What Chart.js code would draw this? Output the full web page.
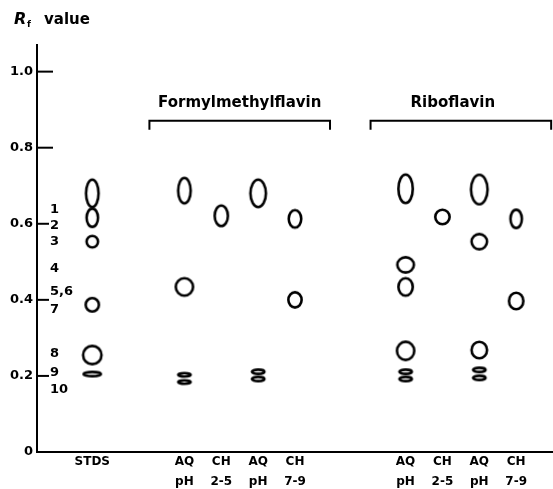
<!DOCTYPE html>
<html lang="en">
<head>
    <meta charset="UTF-8">
    <title>Rf values</title>
    <style>
        html, body { margin: 0; padding: 0; background: #fff; }
        #wrap { width: 553px; height: 489px; }
    </style>
</head>
<body>
<div id="wrap">
    <canvas id="myChart"></canvas>
</div>

<script src="https://cdn.jsdelivr.net/npm/chart.js"></script>

<script>
    // lanes on the plate (label lines) and where they sit along the plate
    const lanes = [['STDS'], ['AQ', 'pH'], ['CH', '2-5'], ['AQ', 'pH'], ['CH', '7-9'],
                   ['AQ', 'pH'], ['CH', '2-5'], ['AQ', 'pH'], ['CH', '7-9']];
    const laneSlot = [1.5, 4, 5, 6, 7, 10, 11, 12, 13];
    const groups = ['Formylmethylflavin', 'Riboflavin'];
    const groupLanes = [[1, 4], [5, 8]];
    const yTicks = [0, 0.2, 0.4, 0.6, 0.8, 1.0];

    // numbered standards
    const stdNames = ['1', '2', '3', '4', '5,6', '7', '8', '9', '10'];
    const stdRf = [0.637, 0.595, 0.553, 0.482, 0.421, 0.374, 0.258, 0.208, 0.163];

    // spots: lane index, Rf of centre, length along the run (Rf), breadth (lane units)
    const spotLane = [0, 0, 0, 0, 0, 0,
                      1, 1, 1, 1,
                      2,
                      3, 3, 3,
                      4, 4,
                      5, 5, 5, 5, 5, 5,
                      6,
                      7, 7, 7, 7, 7,
                      8, 8];
    const spotRf = [0.68, 0.616, 0.553, 0.387, 0.255, 0.205,
                    0.687, 0.434, 0.203, 0.184,
                    0.621,
                    0.68, 0.211, 0.192,
                    0.613, 0.4,
                    0.692, 0.492, 0.434, 0.266, 0.211, 0.192,
                    0.618,
                    0.69, 0.553, 0.268, 0.216, 0.195,
                    0.613, 0.397];
    const spotLength = [0.079, 0.055, 0.037, 0.042, 0.055, 0.018,
                        0.074, 0.053, 0.016, 0.016,
                        0.061,
                        0.079, 0.018, 0.018,
                        0.053, 0.047,
                        0.082, 0.047, 0.053, 0.055, 0.018, 0.018,
                        0.045,
                        0.084, 0.047, 0.05, 0.018, 0.018,
                        0.055, 0.05];
    const spotBreadth = [0.41, 0.38, 0.38, 0.43, 0.57, 0.54,
                         0.41, 0.54, 0.41, 0.41,
                         0.43,
                         0.49, 0.41, 0.41,
                         0.41, 0.43,
                         0.46, 0.52, 0.46, 0.54, 0.41, 0.41,
                         0.46,
                         0.52, 0.49, 0.49, 0.41, 0.41,
                         0.38, 0.46];

    const FONT = "'DejaVu Sans', sans-serif";

    // draws one spot as an open ellipse, sized through the chart scales
    function spotImage(context) {
        const i = context.dataIndex;
        if (i === undefined) return 'circle';
        const sx = context.chart.scales.x;
        const sy = context.chart.scales.y;
        const h = Math.abs(sy.getPixelForValue(0) - sy.getPixelForValue(spotLength[i]));
        const w = Math.abs(sx.getPixelForValue(spotBreadth[i]) - sx.getPixelForValue(0));
        const lw = 2.6;
        const c = document.createElement('canvas');
        c.width = Math.ceil(w + 2);
        c.height = Math.ceil(h + 2);
        const g = c.getContext('2d');
        g.lineWidth = lw;
        g.strokeStyle = '#000';
        g.beginPath();
        g.ellipse(c.width / 2, c.height / 2, Math.max(w / 2 - lw / 2, 1), Math.max(h / 2 - lw / 2, 1), 0, 0, Math.PI * 2);
        g.stroke();
        return c;
    }

    const extras = {
        id: 'extras',
        afterDraw(chart) {
            const ctx = chart.ctx;
            const sx = chart.scales.x;
            const sy = chart.scales.y;
            const left = chart.chartArea.left;
            ctx.save();
            ctx.strokeStyle = '#000';
            ctx.fillStyle = '#000';

            // tick marks on the inside of the axis
            ctx.lineWidth = 2;
            yTicks.forEach(v => {
                const y = sy.getPixelForValue(v);
                if (v === 0) return;
                ctx.beginPath();
                ctx.moveTo(left, y);
                ctx.lineTo(left + (v >= 0.8 ? 16 : 12), y);
                ctx.stroke();
            });

            // standards numbering
            ctx.font = 'bold 13px ' + FONT;
            ctx.textAlign = 'left';
            ctx.textBaseline = 'middle';
            stdNames.forEach((name, i) => {
                ctx.fillText(name, left + 13, sy.getPixelForValue(stdRf[i]));
            });

            // group brackets and names
            groups.forEach((name, gi) => {
                const a = laneSlot[groupLanes[gi][0]] - 0.95;
                const b = laneSlot[groupLanes[gi][1]] + 0.95;
                const x0 = sx.getPixelForValue(a);
                const x1 = sx.getPixelForValue(b);
                const yTop = sy.getPixelForValue(0.871);
                const yEnd = sy.getPixelForValue(0.847);
                ctx.lineWidth = 2;
                ctx.beginPath();
                ctx.moveTo(x0, yEnd);
                ctx.lineTo(x0, yTop);
                ctx.lineTo(x1, yTop);
                ctx.lineTo(x1, yEnd);
                ctx.stroke();
                ctx.font = 'bold 15px ' + FONT;
                ctx.textAlign = 'center';
                ctx.fillText(name, (x0 + x1) / 2 - gi * 8, sy.getPixelForValue(0.918));
            });

            // axis title: Rf value
            ctx.textAlign = 'left';
            ctx.font = 'italic bold 16px ' + FONT;
            ctx.fillText('R', 14, 20);
            ctx.font = 'bold 9px ' + FONT;
            ctx.fillText('f', 27, 25);
            ctx.font = 'bold 15px ' + FONT;
            ctx.fillText('value', 44, 20);
            ctx.restore();
        }
    };

    const ctx = document.getElementById('myChart');

    new Chart(ctx, {
        type: 'scatter',
        data: {
            datasets: [{
                data: spotRf.map((rf, i) => ({x: laneSlot[spotLane[i]], y: rf})),
                pointStyle: spotImage,
                pointRadius: 10,
                borderColor: '#000',
                backgroundColor: '#fff'
            }]
        },
        options: {
            responsive: true,
            maintainAspectRatio: false,
            animation: false,
            events: [],
            layout: {autoPadding: false, padding: {top: 45, right: 0, left: 0, bottom: 0}},
            plugins: {
                legend: {display: false},
                tooltip: {enabled: false}
            },
            scales: {
                x: {
                    type: 'linear',
                    min: 0,
                    max: 14,
                    afterBuildTicks: s => { s.ticks = laneSlot.map(v => ({value: v})); },
                    afterFit: s => { s.height = 37; s.paddingLeft = 0; s.paddingRight = 0; },
                    grid: {display: false, drawTicks: false},
                    border: {display: true, color: '#000', width: 2},
                    ticks: {
                        autoSkip: false,
                        maxRotation: 0,
                        padding: 0,
                        color: '#000',
                        font: {family: FONT, size: 12, weight: 'bold', lineHeight: 1.667},
                        callback: (v, i) => lanes[i]
                    }
                },
                y: {
                    min: 0,
                    max: 1.07,
                    afterBuildTicks: s => { s.ticks = yTicks.map(v => ({value: v})); },
                    afterFit: s => { s.width = 37; },
                    grid: {display: false, drawTicks: false},
                    border: {display: true, color: '#000', width: 2},
                    ticks: {
                        padding: 4,
                        color: '#000',
                        font: {family: FONT, size: 13, weight: 'bold'},
                        callback: v => v === 0 ? '0' : v.toFixed(1)
                    }
                }
            }
        },
        plugins: [extras]
    });
</script>

</body>
</html>
